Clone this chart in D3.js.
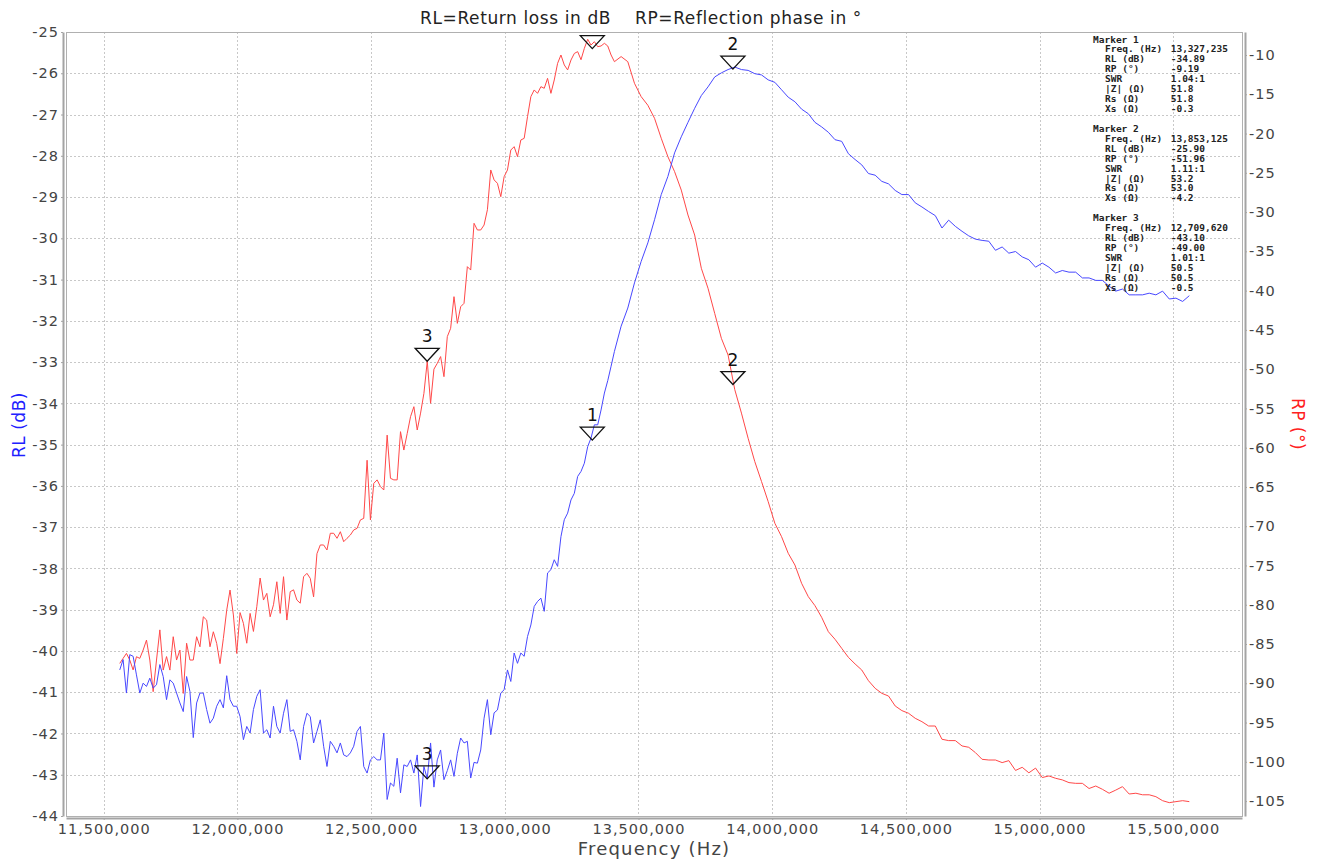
<!DOCTYPE html>
<html>
<head>
<meta charset="utf-8">
<script src="https://cdn.jsdelivr.net/npm/d3@7"></script>
<style>
body { margin: 0; background: #fff; }
.axis text { font-family: "DejaVu Sans", sans-serif; font-size: 14.5px; fill: #444; letter-spacing: 1px; }
.axis path, .axis line { stroke: #a4a4a4; }
.axis path { stroke-width: 2; }
.grid line { stroke: #c8c8c8; stroke-dasharray: 2,2; shape-rendering: crispEdges; }
.marker-info text { font-family: "DejaVu Sans Mono", monospace; font-size: 9.5px; font-weight: bold; fill: #222; white-space: pre; }
.marker-label { font-family: "DejaVu Sans", sans-serif; font-size: 17px; fill: #111; }
</style>
</head>
<body>
<div id="chart"></div>
<script>
// sweep points (kHz) - finer spacing where the traces are noisy
var freqKHz = [
  11560, 11572.5, 11585, 11597.5, 11610, 11622.5, 11635, 11647.5, 11660, 11672.5,
  11685, 11697.5, 11710, 11722.5, 11735, 11747.5, 11760, 11772.5, 11785, 11797.5,
  11810, 11822.5, 11835, 11847.5, 11860, 11872.5, 11885, 11897.5, 11910, 11922.5,
  11935, 11947.5, 11960, 11972.5, 11985, 11997.5, 12010, 12022.5, 12035, 12047.5,
  12060, 12072.5, 12085, 12097.5, 12110, 12122.5, 12135, 12147.5, 12160, 12172.5,
  12185, 12197.5, 12210, 12222.5, 12235, 12247.5, 12260, 12272.5, 12285, 12297.5,
  12310, 12322.5, 12335, 12347.5, 12360, 12372.5, 12385, 12397.5, 12410, 12422.5,
  12435, 12447.5, 12460, 12472.5, 12485, 12497.5, 12510, 12522.5, 12535, 12547.5,
  12560, 12572.5, 12585, 12597.5, 12610, 12622.5, 12635, 12647.5, 12660, 12672.5,
  12685, 12697.5, 12710, 12722.5, 12735, 12747.5, 12760, 12772.5, 12785, 12797.5,
  12810, 12822.5, 12835, 12847.5, 12860, 12872.5, 12885, 12897.5, 12910, 12922.5,
  12935, 12947.5, 12960, 12972.5, 12985, 12997.5, 13010, 13022.5, 13035, 13047.5,
  13060, 13072.5, 13085, 13097.5, 13110, 13122.5, 13135, 13147.5, 13160, 13172.5,
  13185, 13197.5, 13210, 13222.5, 13235, 13247.5, 13260, 13272.5, 13285, 13297.5,
  13310, 13322.5, 13335, 13347.5, 13360, 13372.5, 13385, 13397.5, 13410,
  13435, 13460, 13485, 13510, 13535, 13560, 13585, 13610, 13635, 13660,
  13685, 13710, 13735, 13760, 13785, 13810, 13835, 13860, 13885, 13910,
  13935, 13960, 13985, 14010, 14035, 14060, 14085, 14110, 14135, 14160,
  14185, 14210, 14235, 14260, 14285, 14310, 14335, 14360, 14385, 14410,
  14435, 14460, 14485, 14510, 14535, 14560, 14585, 14610, 14635, 14660,
  14685, 14710, 14735, 14760, 14785, 14810, 14835, 14860, 14885, 14910,
  14935, 14960, 14985, 15010, 15035, 15060, 15085, 15110, 15135, 15160,
  15185, 15210, 15235, 15260, 15285, 15310, 15335, 15360, 15385, 15410,
  15435, 15460, 15485, 15510, 15535, 15560
]

// return loss (dB), blue
var rlValues = [
  -40.46, -40.21, -41.02, -40.09, -40.13, -40.58, -41.02, -40.78, -40.86, -40.66,
  -40.9, -40.82, -40.33, -40.62, -41.18, -40.7, -40.78, -41.02, -41.26, -41.47,
  -40.62, -40.98, -42.1, -41.26, -41.02, -41.02, -41.42, -41.75, -41.63, -41.34,
  -41.18, -41.38, -40.6, -41.18, -41.34, -41.34, -41.59, -42.15, -41.83, -41.99,
  -41.42, -41.1, -40.94, -41.99, -41.91, -42.11, -41.34, -41.83, -41.99, -41.51,
  -41.18, -41.95, -41.91, -42.19, -42.64, -41.83, -41.51, -41.59, -42.23, -41.95,
  -41.67, -42.31, -42.8, -42.19, -42.31, -42.47, -42.23, -42.52, -42.56, -42.47,
  -42.31, -41.95, -41.83, -42.8, -42.96, -42.64, -42.56, -42.64, -42.64, -41.99,
  -43.6, -43.2, -43.28, -42.6, -43.44, -42.76, -42.8, -42.64, -42.96, -42.52,
  -43.77, -42.8, -43.1, -42.23, -43.3, -42.64, -42.4, -43.12, -42.9, -42.64,
  -43.04, -42.48, -42.11, -42.23, -42.19, -43.08, -42.7, -42.72, -42.4, -41.63,
  -41.18, -42.03, -41.5, -41.43, -41.02, -40.94, -40.46, -40.74, -40.05, -40.3,
  -40.05, -40.13, -39.65, -39.37, -38.92, -38.8, -38.72, -39.04, -38.11, -38.03,
  -37.79, -37.95, -37.23, -36.82, -36.66, -36.34, -36.18, -35.77, -35.65, -35.45,
  -35.05, -34.84, -34.52, -34.52, -34.16, -33.75, -33.45, -33.1, -32.74,
  -32.13, -31.69, -31.08, -30.56, -30.11, -29.55, -28.94, -28.5, -27.93, -27.54,
  -27.19, -26.85, -26.54, -26.33, -26.09, -25.99, -25.91, -25.85, -25.91, -25.93,
  -26.01, -26.04, -26.16, -26.22, -26.4, -26.58, -26.69, -26.87, -26.98, -27.19,
  -27.3, -27.43, -27.61, -27.65, -27.95, -28.09, -28.22, -28.43, -28.47, -28.62,
  -28.68, -28.84, -28.94, -28.94, -29.14, -29.24, -29.35, -29.45, -29.75, -29.56,
  -29.71, -29.83, -29.94, -30.02, -30.05, -30.07, -30.29, -30.21, -30.36, -30.32,
  -30.45, -30.52, -30.7, -30.6, -30.7, -30.84, -30.78, -30.82, -30.82, -30.96,
  -30.96, -31.02, -31.02, -31.16, -31.28, -31.23, -31.37, -31.37, -31.37, -31.33,
  -31.37, -31.28, -31.47, -31.45, -31.53, -31.39
]

// reflection phase (deg), red
var rpValues = [
  -87.47, -86.83, -86.2, -87.04, -88.3, -86.62, -86.83, -85.77, -84.5, -87.04,
  -91.07, -87.04, -83.2, -88.32, -86.6, -88.32, -84.07, -87.04, -85.77, -91.29,
  -84.9, -87.04, -87.04, -84.07, -85.35, -81.53, -81.95, -85.35, -83.44, -84.92,
  -87.5, -84.28, -80.7, -78.13, -81.3, -86.2, -81.0, -82.37, -84.9, -81.1,
  -83.4, -80.25, -76.6, -79.4, -78.55, -81.53, -80.0, -77.07, -81.1, -76.43,
  -81.95, -78.34, -78.1, -79.4, -79.8, -76.43, -76.0, -76.64, -79.0, -73.5,
  -72.39, -72.39, -73.03, -70.9, -70.9, -71.54, -70.7, -71.97, -71.54, -71.12,
  -70.48, -70.27, -69.2, -69.0, -61.6, -69.2, -64.54, -64.1, -64.96, -65.39,
  -58.4, -63.9, -64.1, -64.1, -57.96, -60.3, -58.2, -56.05, -54.78, -57.75,
  -55.6, -53.08, -49.0, -54.35, -50.0, -49.26, -48.4, -50.96, -45.86, -44.8,
  -40.77, -44.17, -42.05, -41.62, -36.95, -37.38, -31.43, -32.28, -32.28, -31.65,
  -29.7, -24.64, -25.9, -26.34, -28.04, -25.49, -24.64, -22.1, -21.67, -22.94,
  -20.82, -20.61, -17.85, -15.3, -14.45, -14.88, -14.03, -14.24, -12.97, -14.88,
  -13.18, -11.06, -10.0, -11.27, -11.9, -10.64, -9.8, -9.57, -10.6, -9.15,
  -8.0, -8.73, -8.3, -8.94, -8.85, -8.51, -8.85, -10.0, -10.85,
  -10.2, -10.85, -13.6, -15.3, -16.4, -18.06, -20.6, -22.95, -24.85, -27.2,
  -30.37, -32.92, -37.16, -39.7, -42.9, -46.08, -48.2, -52.6, -55.6, -58.8,
  -61.78, -64.3, -66.87, -69.63, -71.33, -73.45, -74.94, -77.27, -78.97, -80.12,
  -81.6, -83.43, -84.4, -85.55, -86.7, -87.54, -88.31, -89.67, -90.64, -91.28,
  -91.62, -92.89, -93.48, -93.82, -94.46, -94.89, -95.44, -95.44, -97.13, -97.3,
  -97.3, -97.98, -98.15, -98.83, -99.68, -99.77, -99.77, -100.1, -99.85, -101.1,
  -100.7, -101.4, -100.8, -102.0, -101.8, -102.1, -102.3, -102.65, -102.74, -102.74,
  -103.4, -103.08, -103.5, -104.0, -103.6, -103.16, -104.1, -104.0, -104.2, -104.2,
  -104.44, -104.95, -105.2, -105.07, -104.95, -105.07
]

var xTicks = [11500000, 12000000, 12500000, 13000000, 13500000, 14000000, 14500000, 15000000, 15500000]
var rlTicks = [-44, -43, -42, -41, -40, -39, -38, -37, -36, -35, -34, -33, -32, -31, -30, -29, -28, -27, -26, -25]
var rpTicks = [-105, -100, -95, -90, -85, -80, -75, -70, -65, -60, -55, -50, -45, -40, -35, -30, -25, -20, -15, -10]

// markers
var markerNames = ["1", "2", "3"]
var markerFreqs = [13327235, 13853125, 12709620]
var markerRL = [-34.89, -25.90, -43.10]
var markerRP = [-9.19, -51.96, -49.00]
var markerSWR = ["1.04:1", "1.11:1", "1.01:1"]
var markerZ = [51.8, 53.2, 50.5]
var markerRs = [51.8, 53.0, 50.5]
var markerXs = [-0.3, -4.2, -0.5]

var margin = { top: 32, right: 81, bottom: 46, left: 66 }

var width = 1323 - margin.left - margin.right,
    height = 862 - margin.top - margin.bottom

var root = d3.select("#chart").append("svg")
    .attr("width", 1323)
    .attr("height", 862)
    .style("display", "block")

root.append("rect").attr("width", 1323).attr("height", 862).attr("fill", "#fff")

var svg = root.append("g")
    .attr("transform", "translate(" + margin.left + "," + margin.top + ")")

var xPositionScale = d3.scaleLinear().domain([11359000, 15757000]).range([0, width])
var rlScale = d3.scaleLinear().domain([-44, -25]).range([height, 0])
var rpScale = d3.scaleLinear().domain([-106.9, -7.07]).range([height, 0])

svg.append("clipPath").attr("id", "plot-clip")
  .append("rect").attr("width", width).attr("height", height)

// grid
var grid = svg.append("g").attr("class", "grid")
grid.selectAll(".hgrid")
  .data(rlTicks.filter(function (d) { return d > -44 && d < -25 }))
  .enter().append("line")
  .attr("x1", 0).attr("x2", width)
  .attr("y1", function (d) { return Math.round(rlScale(d)) + 0.5 })
  .attr("y2", function (d) { return Math.round(rlScale(d)) + 0.5 })
grid.selectAll(".vgrid")
  .data(xTicks)
  .enter().append("line")
  .attr("y1", 0).attr("y2", height)
  .attr("x1", function (d) { return Math.round(xPositionScale(d)) + 0.5 })
  .attr("x2", function (d) { return Math.round(xPositionScale(d)) + 0.5 })

svg.append("rect")
  .attr("x", 0.5).attr("y", 0.5)
  .attr("width", width).attr("height", height)
  .attr("fill", "none").attr("stroke", "#b0b0b0")

var points = freqKHz.map(function (f, i) {
  return { freq: f * 1000, rl: rlValues[i], rp: rpValues[i] }
})

var plot = svg.append("g").attr("clip-path", "url(#plot-clip)")

var rpLine = d3.line()
  .x(function (d) { return xPositionScale(d.freq) })
  .y(function (d) { return rpScale(d.rp) })
var rlLine = d3.line()
  .x(function (d) { return xPositionScale(d.freq) })
  .y(function (d) { return rlScale(d.rl) })

plot.append("path").datum(points)
  .attr("d", rpLine)
  .attr("fill", "none").attr("stroke", "#ff4848").attr("stroke-width", 1)
plot.append("path").datum(points)
  .attr("d", rlLine)
  .attr("fill", "none").attr("stroke", "#4848ff").attr("stroke-width", 1)

// marker info text
var info = svg.append("g").attr("class", "marker-info")
var rowH = 9.93
markerNames.forEach(function (name, i) {
  var rows = [
    ["Freq. (Hz)", d3.format(",")(markerFreqs[i])],
    ["RL (dB)", markerRL[i].toFixed(2)],
    ["RP (°)", markerRP[i].toFixed(2)],
    ["SWR", markerSWR[i]],
    ["|Z| (Ω)", markerZ[i].toFixed(1)],
    ["Rs (Ω)", markerRs[i].toFixed(1)],
    ["Xs (Ω)", markerXs[i].toFixed(1)]
  ]
  var top = 10.5 + i * 9 * rowH
  info.append("text").attr("x", 1027).attr("y", top).text("Marker " + name)
  rows.forEach(function (r, j) {
    info.append("text").attr("x", 1039).attr("y", top + (j + 1) * rowH).text(r[0])
    info.append("text").attr("x", 1104.7).attr("y", top + (j + 1) * rowH).text(r[1])
  })
})

// marker triangles on both traces
var markerPoints = []
markerNames.forEach(function (name, i) {
  markerPoints.push({ name: name, x: xPositionScale(markerFreqs[i]), y: rlScale(markerRL[i]) })
  markerPoints.push({ name: name, x: xPositionScale(markerFreqs[i]), y: rpScale(markerRP[i]) })
})

var mk = plot.selectAll(".mk")
  .data(markerPoints)
  .enter().append("g")
  .attr("transform", function (d) { return "translate(" + d.x + "," + d.y + ")" })
mk.append("path")
  .attr("d", "M-12,-13L12,-13L0,0Z")
  .attr("fill", "none").attr("stroke", "#111").attr("stroke-width", 1.3)
// numbers that would sit above the plot frame are cut off, as in the original
mk.filter(function (d) { return d.y - 32 > 0 })
  .append("text")
  .attr("class", "marker-label")
  .attr("text-anchor", "middle")
  .attr("y", -19)
  .text(function (d) { return d.name })

// axes
var fmtPlain = function (d) { return String(d) }

svg.append("g").attr("class", "axis")
  .attr("transform", "translate(-3,0)")
  .call(d3.axisLeft(rlScale).tickValues(rlTicks).tickSize(2).tickPadding(2).tickSizeOuter(0).tickFormat(fmtPlain))

svg.append("g").attr("class", "axis")
  .attr("transform", "translate(" + (width + 3) + ",0)")
  .call(d3.axisRight(rpScale).tickValues(rpTicks).tickSize(2).tickPadding(2).tickSizeOuter(0).tickFormat(fmtPlain))

svg.append("g").attr("class", "axis")
  .attr("transform", "translate(0," + (height + 2) + ")")
  .call(d3.axisBottom(xPositionScale).tickValues(xTicks).tickSize(2).tickPadding(4).tickSizeOuter(0).tickFormat(d3.format(",")))

// titles
root.append("text")
  .attr("x", 641).attr("y", 24)
  .attr("text-anchor", "middle")
  .style("font-family", "'DejaVu Sans', sans-serif").style("font-size", "17px")
  .style("letter-spacing", "0.6px")
  .style("fill", "#222").style("white-space", "pre")
  .text("RL=Return loss in dB    RP=Reflection phase in °")

root.append("text")
  .attr("x", 654).attr("y", 855)
  .attr("text-anchor", "middle")
  .style("font-family", "'DejaVu Sans', sans-serif").style("font-size", "18px")
  .style("letter-spacing", "1.2px")
  .style("fill", "#444")
  .text("Frequency (Hz)")

root.append("text")
  .attr("transform", "translate(25,425) rotate(-90)")
  .attr("text-anchor", "middle")
  .style("font-family", "'DejaVu Sans', sans-serif").style("font-size", "17px")
  .style("letter-spacing", "0.5px")
  .style("fill", "#2020ff")
  .text("RL (dB)")

root.append("text")
  .attr("transform", "translate(1292,424) rotate(90)")
  .attr("text-anchor", "middle")
  .style("font-family", "'DejaVu Sans', sans-serif").style("font-size", "17px")
  .style("letter-spacing", "0.5px")
  .style("fill", "#ff2020")
  .text("RP (°)")
</script>
</body>
</html>
